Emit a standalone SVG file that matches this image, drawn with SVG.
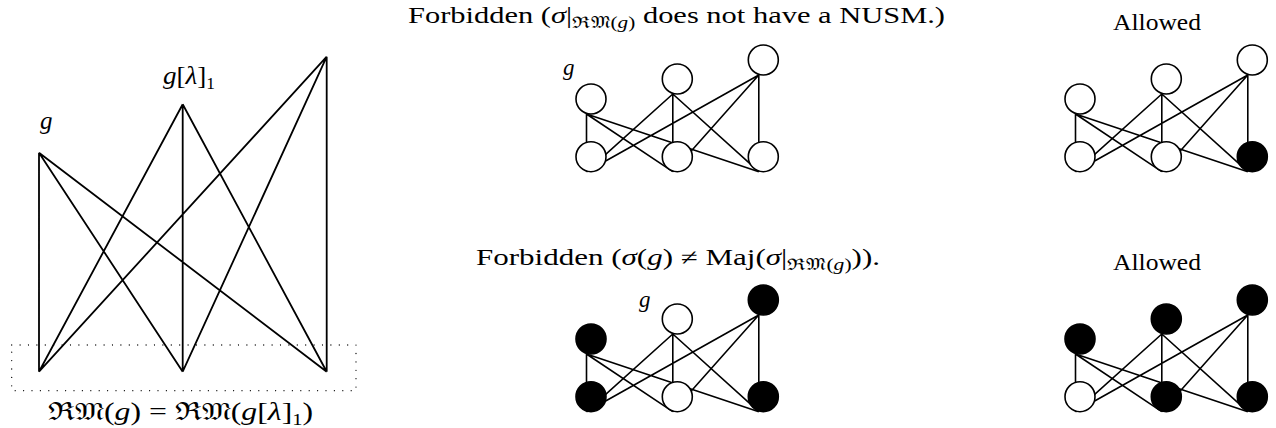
<svg xmlns="http://www.w3.org/2000/svg" width="1276" height="428" viewBox="0 0 1276 428">
<style>
text{font-family:"Liberation Serif",serif;font-size:23px;fill:#000}
.it{font-style:italic}
.sub{font-size:16px}
.big{font-size:25px}
.e{stroke:#000;stroke-width:1.8;fill:none}
.e2{stroke:#000;stroke-width:1.6;fill:none}
.w{fill:#fff;stroke:#000;stroke-width:1.6}
.b{fill:#000;stroke:#000;stroke-width:1.6}
.dot{fill:none;stroke:#000;stroke-width:1.3;stroke-dasharray:0 8.4;stroke-linecap:round}
</style>
<defs>
<g id="edges">
<path class="e2" d="M-4.5 15V72.7M-4.5 15L81.8 72.7M-4.5 15L167.8 72.7M81.8 -5L-4.5 72.7M81.8 -5V72.7M81.8 -5L167.8 72.7M167.8 -24L-4.5 72.7M167.8 -24L81.8 72.7M167.8 -24V72.7"/>
</g>
</defs>

<g id="left-graph">
<g id="connectors-left">
<path class="e" d="M39 152.7V371.7M39 152.7L182.7 371.7M39 152.7L326.7 371.7M182.7 104.3L39 371.7M182.7 104.3V371.7M182.7 104.3L326.7 371.7M326.7 56.7L39 371.7M326.7 56.7L182.7 371.7M326.7 56.7V371.7"/>
</g>
<rect id="rm-box" class="dot" x="11.7" y="345" width="344.3" height="45.7"/>
<text id="lbl-g" class="it big" x="40" y="129">g</text>
<text id="lbl-gl" class="big" x="163" y="84" textLength="52" lengthAdjust="spacingAndGlyphs"><tspan class="it">g</tspan>[<tspan class="it">λ</tspan>]<tspan class="sub" dy="5">1</tspan></text>
<text id="lbl-rm" class="big" x="48" y="420" textLength="265" lengthAdjust="spacingAndGlyphs">ℜ𝔐(<tspan class="it">g</tspan>) = ℜ𝔐(<tspan class="it">g</tspan>[<tspan class="it">λ</tspan>]<tspan class="sub" dy="5">1</tspan><tspan dy="-5">)</tspan></text>
</g>

<g id="title-forbidden-1">
<text x="408" y="23" textLength="537" lengthAdjust="spacingAndGlyphs">Forbidden (<tspan class="it">σ</tspan>|<tspan class="sub" dy="5">ℜ𝔐(<tspan class="it">g</tspan>)</tspan><tspan dy="-5"> does not have a NUSM.)</tspan></text>
</g>
<g id="title-allowed-1"><text x="1113" y="30" textLength="88" lengthAdjust="spacingAndGlyphs">Allowed</text></g>
<g id="title-forbidden-2">
<text x="476" y="265" textLength="404" lengthAdjust="spacingAndGlyphs">Forbidden (<tspan class="it">σ</tspan>(<tspan class="it">g</tspan>) ≠ Maj(<tspan class="it">σ</tspan>|<tspan class="sub" dy="5">ℜ𝔐(<tspan class="it">g</tspan>)</tspan><tspan dy="-5">)).</tspan></text>
</g>
<g id="title-allowed-2"><text x="1113" y="270" textLength="88" lengthAdjust="spacingAndGlyphs">Allowed</text></g>

<g id="connectors">
<use href="#edges" transform="translate(591,99)"/>
<use href="#edges" transform="translate(1080,99)"/>
<use href="#edges" transform="translate(591,339)"/>
<use href="#edges" transform="translate(1080,339)"/>
</g>

<g id="graph-forbidden-1">
<circle class="w" cx="591" cy="99" r="15"/>
<circle class="w" cx="677.3" cy="79" r="15"/>
<circle class="w" cx="763.3" cy="60" r="15"/>
<circle class="w" cx="591" cy="156.7" r="15"/>
<circle class="w" cx="677.3" cy="156.7" r="15"/>
<circle class="w" cx="763.3" cy="156.7" r="15"/>
<text class="it" x="563" y="75">g</text>
</g>
<g id="graph-allowed-1">
<circle class="w" cx="1080" cy="99" r="15"/>
<circle class="w" cx="1166.3" cy="79" r="15"/>
<circle class="w" cx="1252.3" cy="60" r="15"/>
<circle class="w" cx="1080" cy="156.7" r="15"/>
<circle class="w" cx="1166.3" cy="156.7" r="15"/>
<circle class="b" cx="1252.3" cy="156.7" r="15"/>
</g>
<g id="graph-forbidden-2">
<circle class="b" cx="591" cy="339" r="15"/>
<circle class="w" cx="677.3" cy="319" r="15"/>
<circle class="b" cx="763.3" cy="300" r="15"/>
<circle class="b" cx="591" cy="396.7" r="15"/>
<circle class="w" cx="677.3" cy="396.7" r="15"/>
<circle class="b" cx="763.3" cy="396.7" r="15"/>
<text class="it" x="639" y="307">g</text>
</g>
<g id="graph-allowed-2">
<circle class="b" cx="1080" cy="339" r="15"/>
<circle class="b" cx="1166.3" cy="319" r="15"/>
<circle class="b" cx="1252.3" cy="300" r="15"/>
<circle class="w" cx="1080" cy="396.7" r="15"/>
<circle class="b" cx="1166.3" cy="396.7" r="15"/>
<circle class="b" cx="1252.3" cy="396.7" r="15"/>
</g>
</svg>
